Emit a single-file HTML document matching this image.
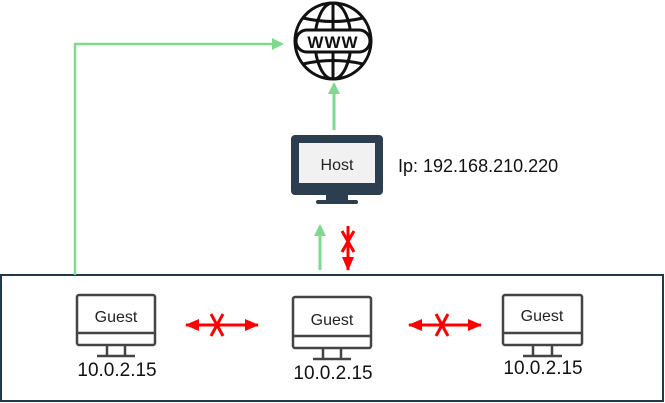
<!DOCTYPE html>
<html><head><style>body{margin:0;background:#fff}svg{display:block}text{font-family:"Liberation Sans",sans-serif}</style></head><body>
<svg width="665" height="403" viewBox="0 0 665 403" xmlns="http://www.w3.org/2000/svg">
<defs>
<marker id="r" markerWidth="14" markerHeight="12" refX="13" refY="6" orient="auto-start-reverse" markerUnits="userSpaceOnUse"><path d="M0,0 L14,6 L0,12 Z" fill="#f00"/></marker>
<marker id="gu" markerWidth="12" markerHeight="12" refX="10" refY="6" orient="auto" markerUnits="userSpaceOnUse"><path d="M0,0 L12,6 L0,12 Z" fill="#7fd98f"/></marker>
</defs>
<rect x="1" y="275" width="662" height="126" fill="none" stroke="#1f3a4a" stroke-width="2"/>
<polyline points="75,275 75,44 282,44" fill="none" stroke="#7fd98f" stroke-width="2.5" marker-end="url(#gu)"/>
<line x1="334" y1="130" x2="334" y2="84" stroke="#7fd98f" stroke-width="3" marker-end="url(#gu)"/>
<line x1="320" y1="270" x2="320" y2="226" stroke="#7fd98f" stroke-width="3" marker-end="url(#gu)"/>
<g fill="none" stroke="#111" stroke-width="3">
<circle cx="333" cy="41" r="38"/>
<ellipse cx="333" cy="41" rx="18" ry="38"/>
<line x1="333" y1="3" x2="333" y2="30"/><line x1="333" y1="52" x2="333" y2="79"/>
<path d="M303,18 Q333,25 363,18"/><path d="M303,64 Q333,57 363,64"/>
<rect x="296" y="30" width="74" height="22" rx="11" fill="#fff"/>
</g>
<text x="333" y="48" text-anchor="middle" font-size="17" font-weight="bold" fill="#111" letter-spacing="1">WWW</text>
<rect x="291" y="135" width="92" height="60" rx="4" fill="#2d3e50"/>
<rect x="299" y="143" width="76" height="40" fill="#f1f1f1"/>
<rect x="326" y="195" width="22" height="6" fill="#2d3e50"/>
<rect x="316" y="200" width="42" height="4" rx="2" fill="#2d3e50"/>
<text x="337" y="170" text-anchor="middle" font-size="16" fill="#222">Host</text>
<text x="398" y="172" font-size="18" fill="#111">Ip: 192.168.210.220</text>
<line x1="348" y1="226" x2="348" y2="270" stroke="#f00" stroke-width="3" marker-end="url(#r)"/>
<path d="M342,231 L354,252 M354,231 L342,252" stroke="#f00" stroke-width="3"/>
<line x1="186" y1="325" x2="258" y2="325" stroke="#f00" stroke-width="3" marker-start="url(#r)" marker-end="url(#r)"/>
<path d="M211,314 L223,336 M223,314 L211,336" stroke="#f00" stroke-width="3"/>
<line x1="409" y1="325" x2="481" y2="325" stroke="#f00" stroke-width="3" marker-start="url(#r)" marker-end="url(#r)"/>
<path d="M436,314 L448,336 M448,314 L436,336" stroke="#f00" stroke-width="3"/>
<g fill="none" stroke="#444" stroke-width="2.5">
<rect x="77" y="295" width="78" height="50" rx="2"/><line x1="77" y1="333" x2="155" y2="333"/><line x1="107" y1="345" x2="107" y2="355"/><line x1="125" y1="345" x2="125" y2="355"/><line x1="97" y1="356" x2="135" y2="356"/>
<rect x="293" y="297" width="78" height="51" rx="2"/><line x1="293" y1="336" x2="371" y2="336"/><line x1="323" y1="348" x2="323" y2="358"/><line x1="341" y1="348" x2="341" y2="358"/><line x1="313" y1="359" x2="351" y2="359"/>
<rect x="503" y="295" width="79" height="50" rx="2"/><line x1="503" y1="333" x2="582" y2="333"/><line x1="533" y1="345" x2="533" y2="355"/><line x1="552" y1="345" x2="552" y2="355"/><line x1="523" y1="356" x2="562" y2="356"/>
</g>
<g font-size="16" fill="#222" text-anchor="middle">
<text x="116" y="322">Guest</text><text x="332" y="325">Guest</text><text x="542" y="321">Guest</text>
</g>
<g font-size="19" fill="#111" text-anchor="middle">
<text x="117" y="376">10.0.2.15</text><text x="333" y="379">10.0.2.15</text><text x="543" y="374">10.0.2.15</text>
</g>
</svg>
</body></html>
